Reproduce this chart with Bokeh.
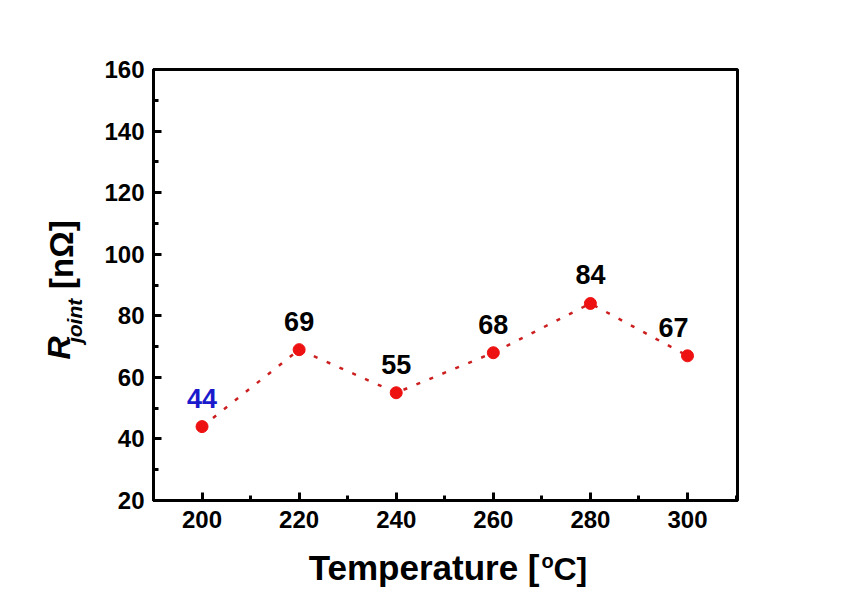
import math
from bokeh.plotting import figure
from bokeh.layouts import column, row
from bokeh.models import LabelSet, ColumnDataSource, SingleIntervalTicker, Range1d
from bokeh.core.properties import value
from bokeh.embed import file_html
from bokeh.resources import INLINE

temperature = [200, 220, 240, 260, 280, 300]
r_joint = [44, 69, 55, 68, 84, 67]
value_labels = ["44", "69", "55", "68", "84", "67"]
label_colors = ["#1a1acc", "black", "black", "black", "black", "black"]
label_dx = [0, 0, 0, 0, 0, -14]

x_title_parts = ["Temperature [", "o", "C]"]
y_title_parts = ["R", "joint", "[n\u03a9]"]

FONT = "Liberation Sans"
W = 839
YW = 100          # width of the y-title strip
MAIN_H = 540      # height of the main plot
XH = 52           # height of the x-title strip

# ---------------- main plot ----------------
p = figure(width=W - YW, height=MAIN_H, output_backend="svg", toolbar_location=None,
           x_range=Range1d(190, 310.3), y_range=Range1d(20, 160),
           min_border_left=153 - YW, min_border_right=102, min_border_top=69,
           min_border_bottom=MAIN_H - 500)

p.xgrid.visible = False
p.ygrid.visible = False
p.outline_line_color = "black"
p.outline_line_width = 3
p.outline_line_alpha = 1

p.xaxis.ticker = SingleIntervalTicker(interval=20, num_minor_ticks=2)
p.yaxis.ticker = SingleIntervalTicker(interval=20, num_minor_ticks=2)
for ax in (p.xaxis, p.yaxis):
    ax.axis_line_width = 3
    ax.axis_line_color = "black"
    ax.major_tick_in = 8
    ax.major_tick_out = 0
    ax.minor_tick_in = 5
    ax.minor_tick_out = 0
    ax.major_tick_line_width = 3
    ax.minor_tick_line_width = 3
    ax.major_label_text_font = FONT
    ax.major_label_text_font_style = "bold"
    ax.major_label_text_font_size = "24px"
    ax.major_label_text_color = "black"
p.xaxis.major_label_standoff = 10
p.yaxis.major_label_standoff = 9

src = ColumnDataSource(dict(x=temperature, y=r_joint, t=value_labels, c=label_colors, dx=label_dx))
p.line("x", "y", source=src, line_color="#cc1f1f", line_width=2.5, line_dash="4 10")
p.scatter("x", "y", source=src, size=12, fill_color="#ee1111", line_color="#ee1111")

labels = LabelSet(x="x", y="y", text="t", source=src, x_offset="dx", y_offset=19,
                  text_align="center", text_baseline="alphabetic",
                  text_font=value(FONT), text_font_style=value("bold"), text_font_size=value("27px"),
                  text_color="c")
p.add_layout(labels)


def strip(width, height, x0, y0):
    """A blank figure whose data coordinates equal canvas pixel positions."""
    f = figure(width=width, height=height, output_backend="svg", toolbar_location=None,
               x_range=Range1d(x0, x0 + width), y_range=Range1d(y0 + height, y0),
               x_axis_location=None, y_axis_location=None, min_border=0)
    f.xgrid.visible = False
    f.ygrid.visible = False
    f.outline_line_color = None
    return f


def put(fig, x, y, text, size, style="bold", align="center", angle=0.0):
    fig.text(x=[x], y=[y], text=[text], angle=angle,
             text_font=value(FONT), text_font_style=style, text_font_size=size,
             text_align=align, text_baseline="middle", text_color="black")


# ---------------- y-axis title strip ----------------
yf = strip(YW, MAIN_H, 0, 0)
put(yf, 58, 349, y_title_parts[0], "32px", style="bold italic", angle=math.pi / 2)
put(yf, 74, 315, y_title_parts[1], "21px", style="bold italic", angle=math.pi / 2)
put(yf, 61, 232, y_title_parts[2], "33px", angle=math.pi / 2)

# ---------------- x-axis title strip ----------------
xf = strip(W, XH, 0, MAIN_H)
put(xf, 539, 567, x_title_parts[0], "35px", align="right")
put(xf, 541, 560, x_title_parts[1], "20px", align="left")
put(xf, 553, 568, x_title_parts[2], "32px", align="left")

layout = column(row(yf, p, spacing=0), xf, spacing=0)
open("out.html", "w").write(file_html(layout, INLINE))
